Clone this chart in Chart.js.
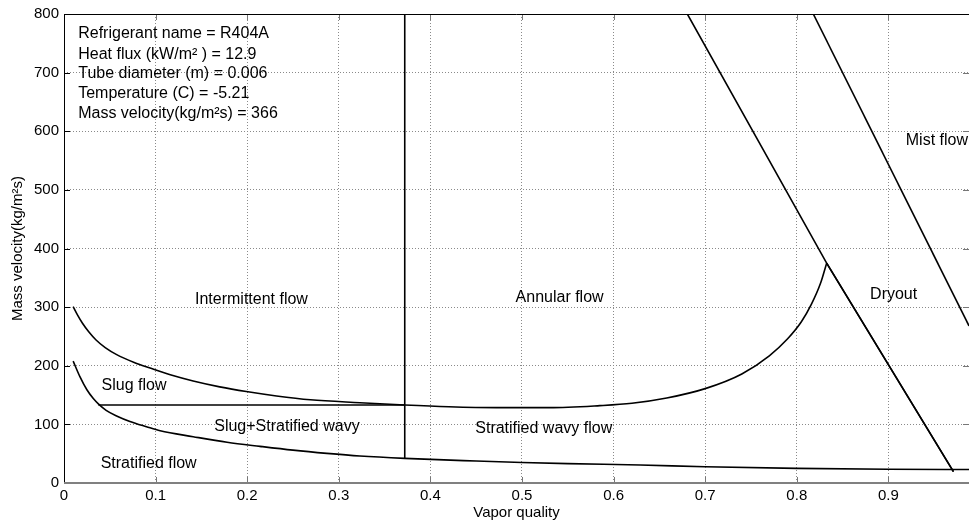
<!DOCTYPE html>
<html>
<head>
<meta charset="utf-8">
<script src="https://cdn.jsdelivr.net/npm/chart.js@4.4.1/dist/chart.umd.min.js"></script>
<style>
  body { margin: 0; background: #fff; }
  .wrap { width: 969px; height: 527px; position: relative; }
</style>
</head>
<body>
<div class="wrap"><canvas id="myChart"></canvas></div>
<script>
// values (vapor quality, mass velocity)
const xTicks = [0, 0.1, 0.2, 0.3, 0.4, 0.5, 0.6, 0.7, 0.8, 0.9]
const yTicks = [0, 100, 200, 300, 400, 500, 600, 700, 800]

// wavy boundary (intermittent/annular above, slug / stratified wavy below)
const wavyX = [0.010, 0.015, 0.020, 0.027, 0.035, 0.045, 0.0575, 0.076, 0.094, 0.116, 0.141, 0.170, 0.199, 0.232, 0.269, 0.323, 0.372, 0.420, 0.472, 0.530, 0.585, 0.620, 0.658, 0.700, 0.740, 0.770, 0.790, 0.805, 0.816, 0.826, 0.8326]
const wavyY = [301, 286, 273, 258, 244, 231, 219, 206, 196, 184.5, 174, 164, 156, 148.5, 142, 137, 133, 130, 128.5, 128.5, 132, 136, 145, 161, 186, 217, 246, 275, 305, 341, 375]

// stratified boundary
const stratX = [0.010, 0.0175, 0.025, 0.032, 0.0375, 0.046, 0.058, 0.072, 0.090, 0.105, 0.141, 0.178, 0.214, 0.250, 0.287, 0.323, 0.372, 0.450, 0.500, 0.550, 0.629, 0.700, 0.800, 0.900, 0.988]
const stratY = [208, 181, 159, 144, 135, 124, 114, 105, 96, 89, 79, 69.5, 62.5, 56, 50.5, 46, 42, 37.5, 35, 33, 30.7, 27.8, 25, 23.5, 23]

// slug / slug+stratified wavy boundary
const slugX = [0.0375, 0.372]
const slugY = [133, 133]

// intermittent / annular transition
const transX = [0.372, 0.372]
const transY = [42, 800]

// dryout line
const dryX = [0.6805, 0.8326, 0.971]
const dryY = [800, 375, 19.3]

// mist flow line
const mistX = [0.818, 0.988]
const mistY = [800, 268]

const infoLines = [
    'Refrigerant name = R404A',
    'Heat flux (kW/m\u00B2 ) = 12.9',
    'Tube diameter (m) = 0.006',
    'Temperature (C) = -5.21',
    'Mass velocity(kg/m\u00B2s) = 366'
]
const infoX = 0.0155
const infoY = [766, 730, 698, 663.5, 629.5]

const regionNames = ['Intermittent flow', 'Annular flow', 'Mist flow', 'Dryout', 'Slug flow', 'Slug+Stratified wavy', 'Stratified wavy flow', 'Stratified flow']
const regionX = [0.143, 0.493, 0.919, 0.880, 0.041, 0.164, 0.449, 0.040]
const regionY = [313, 317, 584, 322, 167, 97, 93, 33.6]

const FONT = "'Liberation Sans', Arial, Helvetica, sans-serif"

const toPoints = (xs, ys) => xs.map((x, i) => ({ x: x, y: ys[i] }))

const lineSet = (xs, ys, smooth) => ({
    data: toPoints(xs, ys),
    showLine: true,
    borderColor: '#000',
    borderWidth: 1.6,
    pointRadius: 0,
    tension: smooth ? 0.4 : 0,
    cubicInterpolationMode: smooth ? 'monotone' : 'default',
    fill: false
})

const decorPlugin = {
    id: 'decor',
    afterDatasetsDraw(chart) {
        const ctx = chart.ctx
        const xs = chart.scales.x
        const ys = chart.scales.y
        const a = chart.chartArea
        ctx.save()

        // inward tick marks
        ctx.lineWidth = 1
        ctx.strokeStyle = '#777'
        xTicks.forEach(v => {
            const px = Math.round(xs.getPixelForValue(v)) + 0.5
            ctx.beginPath()
            ctx.moveTo(px, a.bottom); ctx.lineTo(px, a.bottom - 6)
            ctx.moveTo(px, a.top); ctx.lineTo(px, a.top + 6)
            ctx.stroke()
        })
        yTicks.forEach(v => {
            const py = Math.round(ys.getPixelForValue(v)) + 0.5
            ctx.beginPath()
            ctx.strokeStyle = '#000'
            ctx.moveTo(a.left, py); ctx.lineTo(a.left + 6, py)
            ctx.stroke()
            ctx.beginPath()
            ctx.strokeStyle = '#777'
            ctx.moveTo(a.right, py); ctx.lineTo(a.right - 6, py)
            ctx.stroke()
        })

        // axes box
        ctx.strokeStyle = '#000'
        ctx.lineWidth = 1
        ctx.beginPath()
        ctx.moveTo(a.left + 0.5, a.bottom); ctx.lineTo(a.left + 0.5, a.top + 0.5); ctx.lineTo(a.right, a.top + 0.5)
        ctx.stroke()
        ctx.strokeStyle = '#808080'
        ctx.lineWidth = 2
        ctx.beginPath()
        ctx.moveTo(a.left, a.bottom); ctx.lineTo(a.right, a.bottom)
        ctx.stroke()

        // texts
        ctx.fillStyle = '#000'
        ctx.textBaseline = 'middle'
        ctx.textAlign = 'left'
        ctx.font = '16px ' + FONT
        infoLines.forEach((t, i) => {
            ctx.fillText(t, xs.getPixelForValue(infoX), ys.getPixelForValue(infoY[i]))
        })
        regionNames.forEach((t, i) => {
            ctx.fillText(t, xs.getPixelForValue(regionX[i]), ys.getPixelForValue(regionY[i]))
        })

        // axis titles
        ctx.font = '15px ' + FONT
        ctx.textAlign = 'center'
        ctx.fillText('Vapor quality', (a.left + a.right) / 2, 513)
        ctx.translate(18, (a.top + a.bottom) / 2)
        ctx.rotate(-Math.PI / 2)
        ctx.fillText('Mass velocity(kg/m\u00B2s)', 0, 0)
        ctx.restore()
    }
}

const config = {
    type: 'scatter',
    data: {
        datasets: [
            lineSet(wavyX, wavyY, true),
            lineSet(stratX, stratY, true),
            lineSet(slugX, slugY, false),
            lineSet(transX, transY, false),
            lineSet(dryX, dryY, false),
            lineSet(dryX.slice(1), dryY.slice(1), false),
            lineSet(mistX, mistY, false)
        ]
    },
    options: {
        responsive: true,
        maintainAspectRatio: false,
        animation: false,
        layout: { padding: { top: 14, right: 0, left: 0, bottom: 0 } },
        plugins: {
            legend: { display: false },
            tooltip: { enabled: false }
        },
        scales: {
            x: {
                type: 'linear',
                min: 0,
                max: 0.988,
                afterBuildTicks: scale => { scale.ticks = xTicks.map(v => ({ value: v })) },
                afterFit: scale => { scale.height = 44 },
                ticks: {
                    color: '#000',
                    font: { family: FONT, size: 15 },
                    padding: 4,
                    maxRotation: 0,
                    callback: v => String(Math.round(v * 10) / 10)
                },
                grid: { color: '#8a8a8a', lineWidth: 1, drawTicks: false },
                border: { display: false, dash: [1, 2] }
            },
            y: {
                type: 'linear',
                min: 0,
                max: 800,
                afterBuildTicks: scale => { scale.ticks = yTicks.map(v => ({ value: v })) },
                afterFit: scale => { scale.width = 64 },
                ticks: {
                    color: '#000',
                    font: { family: FONT, size: 15 },
                    padding: 5
                },
                grid: { color: '#8a8a8a', lineWidth: 1, drawTicks: false },
                border: { display: false, dash: [1, 2] }
            }
        }
    },
    plugins: [decorPlugin]
}

const myChart = new Chart(document.getElementById('myChart'), config)
</script>
</body>
</html>
